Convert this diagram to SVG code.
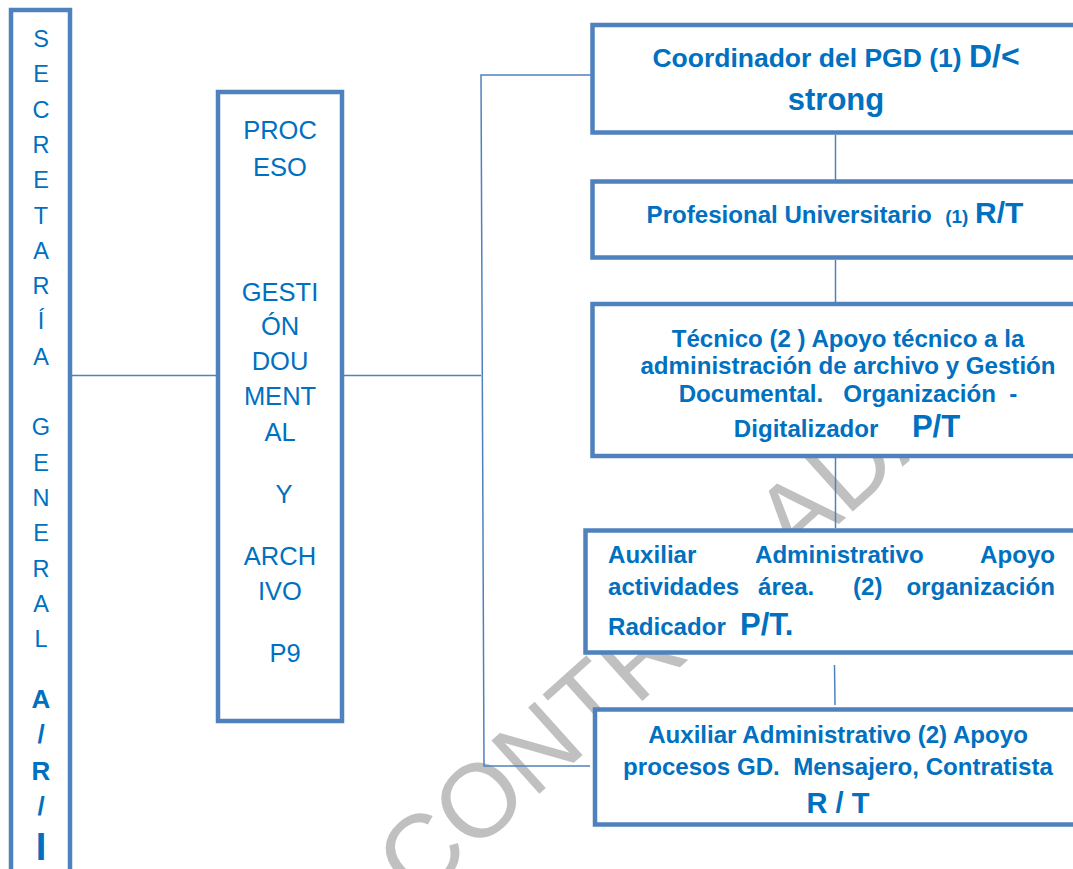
<svg xmlns="http://www.w3.org/2000/svg" width="1073" height="869" viewBox="0 0 1073 869">
<style>
text{font-family:"Liberation Sans",Arial,sans-serif;fill:#0070c0}
.box{fill:#ffffff;stroke:#4f81bd;stroke-width:4.5}
.con{fill:none;stroke:#4f81bd;stroke-width:1.5}
.b{font-weight:bold}
.v{font-size:23.5px;text-anchor:middle}
.m{font-size:25.5px;text-anchor:middle}
.t{font-size:24.1px;font-weight:bold}
.wm{font-size:104px;fill:#c0c0c0}
</style>
<rect width="1073" height="869" fill="#ffffff"/>
<text class="wm" transform="translate(417,904) rotate(-42)">CONTROLADA</text>
<g id="connectors">
<line class="con" x1="72" y1="375.5" x2="217" y2="375.5"/>
<line class="con" x1="342" y1="375.5" x2="481" y2="375.5"/>
<polyline class="con" points="597,75 481,75 484,766 590,766"/>
<line class="con" x1="835.5" y1="135" x2="835.5" y2="180"/>
<line class="con" x1="835.5" y1="260" x2="835.5" y2="302"/>
<line class="con" x1="835.5" y1="458" x2="835.5" y2="528"/>
<line class="con" x1="834.5" y1="665" x2="835" y2="705"/>
</g>
<g id="secretaria">
<rect class="box" x="11" y="10" width="59" height="880"/>
<text class="v" x="41" y="47">S</text>
<text class="v" x="41" y="82">E</text>
<text class="v" x="41" y="118">C</text>
<text class="v" x="41" y="153">R</text>
<text class="v" x="41" y="188">E</text>
<text class="v" x="41" y="224">T</text>
<text class="v" x="41" y="259">A</text>
<text class="v" x="41" y="294">R</text>
<text class="v" x="41" y="329">Í</text>
<text class="v" x="41" y="365">A</text>
<text class="v" x="41" y="435">G</text>
<text class="v" x="41" y="471">E</text>
<text class="v" x="41" y="506">N</text>
<text class="v" x="41" y="541">E</text>
<text class="v" x="41" y="577">R</text>
<text class="v" x="41" y="612">A</text>
<text class="v" x="41" y="647">L</text>
<text class="v b" x="41" y="708" style="font-size:26px">A</text>
<text class="v b" x="41" y="743" style="font-size:26px">/</text>
<text class="v b" x="41" y="780" style="font-size:26px">R</text>
<text class="v b" x="41" y="815" style="font-size:26px">/</text>
<text class="v b" x="41" y="860" style="font-size:38px">I</text>
</g>
<g id="proceso">
<rect class="box" x="218" y="92" width="124" height="629"/>
<text class="m" x="280" y="139">PROC</text>
<text class="m" x="280" y="176">ESO</text>
<text class="m" x="280" y="301">GESTI</text>
<text class="m" x="280" y="335">ÓN</text>
<text class="m" x="280" y="370">DOU</text>
<text class="m" x="280" y="405">MENT</text>
<text class="m" x="280" y="441">AL</text>
<text class="m" x="284" y="503">Y</text>
<text class="m" x="280" y="565">ARCH</text>
<text class="m" x="280" y="600">IVO</text>
<text class="m" x="285" y="662">P9</text>
</g>
<g id="coordinador">
<rect class="box" x="592.5" y="25" width="500" height="107.5"/>
<text class="b" x="836" y="67" text-anchor="middle" style="font-size:26.5px">Coordinador del PGD (1) <tspan style="font-size:32px">D/&lt;</tspan></text>
<text class="b" x="836" y="110" text-anchor="middle" style="font-size:31px">strong</text>
</g>
<g id="profesional">
<rect class="box" x="592.5" y="181.5" width="500" height="76"/>
<text class="t" x="835" y="223" text-anchor="middle" xml:space="preserve">Profesional Universitario  <tspan style="font-size:19px">(1)</tspan> <tspan style="font-size:30px">R/T</tspan></text>
</g>
<g id="tecnico">
<rect class="box" x="592.5" y="304" width="500" height="152"/>
<text class="t" x="848" y="347" text-anchor="middle">Técnico (2 ) Apoyo técnico a la</text>
<text class="t" x="848" y="373.5" text-anchor="middle">administración de archivo y Gestión</text>
<text class="t" x="848" y="401.5" text-anchor="middle" xml:space="preserve">Documental.   Organización  -</text>
<text class="t" x="847" y="437" text-anchor="middle" xml:space="preserve">Digitalizador     <tspan style="font-size:31px">P/T</tspan></text>
</g>
<g id="auxiliar1">
<rect class="box" x="585.5" y="530.5" width="510" height="122"/>
<text class="t" x="608" y="563">Auxiliar</text>
<text class="t" x="755" y="563">Administrativo</text>
<text class="t" x="1055" y="563" text-anchor="end">Apoyo</text>
<text class="t" x="608" y="595">actividades</text>
<text class="t" x="758" y="595">área.</text>
<text class="t" x="853" y="595">(2)</text>
<text class="t" x="1055" y="595" text-anchor="end">organización</text>
<text class="t" x="608" y="635">Radicador</text>
<text class="b" x="740" y="635" style="font-size:31px">P/T.</text>
</g>
<g id="auxiliar2">
<rect class="box" x="595" y="709.5" width="500" height="115"/>
<text class="t" x="838" y="743" text-anchor="middle">Auxiliar Administrativo (2) Apoyo</text>
<text class="t" x="838" y="775" text-anchor="middle" xml:space="preserve">procesos GD.  Mensajero, Contratista</text>
<text class="b" x="838" y="813" text-anchor="middle" style="font-size:29px">R / T</text>
</g>
</svg>
